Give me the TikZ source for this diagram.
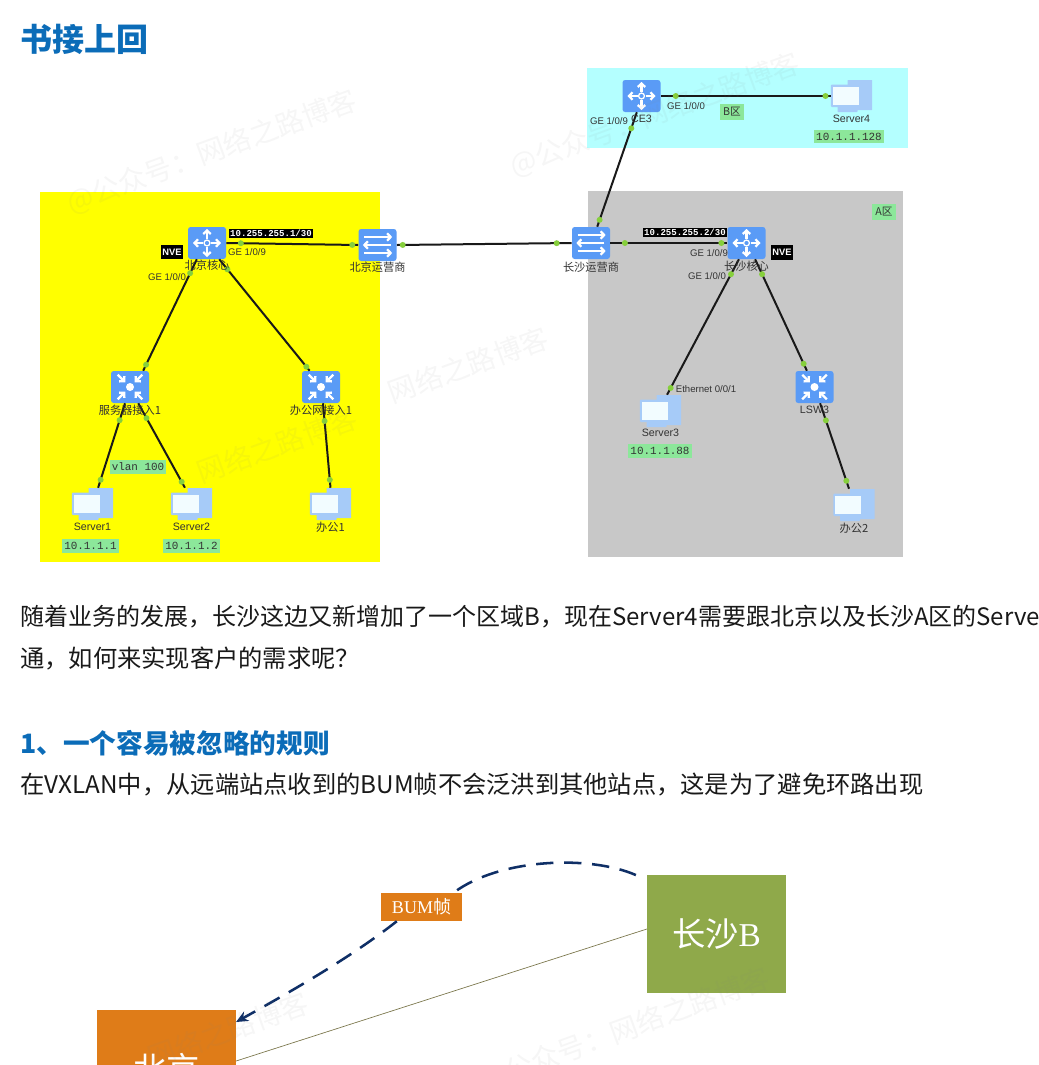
\documentclass[tikz,border=0pt]{standalone}
\usepackage{fontspec}
\setmainfont{Liberation Sans}
\setmonofont{Liberation Mono}
\newfontfamily\cjk{Noto Sans CJK SC}
\newfontfamily\serifl{Liberation Serif}
\usepackage{xcolor}
\usepackage{tikz}
\usetikzlibrary{arrows.meta,positioning,backgrounds}
\definecolor{nwblue}{HTML}{5A9BF6}
\definecolor{nwpale}{HTML}{A6CBF8}
\definecolor{nwscreen}{HTML}{F2FCFF}
\definecolor{nwdot}{HTML}{86CF3C}
\definecolor{nwtag}{HTML}{8CE79A}
\definecolor{headblue}{HTML}{0B6CB8}
\definecolor{bumorange}{HTML}{DF7C18}
\definecolor{csgreen}{HTML}{8FA94A}
\definecolor{bumnavy}{HTML}{0F2F66}
\definecolor{zoneyel}{RGB}{255,255,0}
\definecolor{zonecyan}{HTML}{B4FFFF}
\definecolor{zonegrey}{HTML}{C8C8C8}
\newcommand{\wmk}[3]{\node[wmark,rotate=20] (#1) at (#2) {#3};}

\begin{document}
\begin{tikzpicture}[x=0.75pt,y=-0.75pt,font=\cjk,
  boxbase/.style={rounded corners=2pt,fill=nwblue,minimum width=28.5pt,minimum height=24pt,inner sep=0pt},
  ico/.style={white,line width=1.7pt,-{Straight Barb[length=2.6pt,width=5.6pt]}},
  router/.style={boxbase,path picture={
    \begin{scope}[shift={(path picture bounding box.center)}]
      \foreach \a in {0,90,180,270} \draw[ico] (\a:3pt) -- (\a:10.5pt);
      \draw[white,line width=1pt] (0,0) circle (2.2pt);
    \end{scope}}},
  isp/.style={boxbase,path picture={
    \begin{scope}[shift={(path picture bounding box.center)}]
      \draw[ico] (-10pt,6pt) -- (11pt,6pt);
      \draw[ico] (10pt,0pt) -- (-11pt,0pt);
      \draw[ico] (-10pt,-6pt) -- (11pt,-6pt);
    \end{scope}}},
  lsw/.style={boxbase,path picture={
    \begin{scope}[shift={(path picture bounding box.center)}]
      \foreach \a in {45,135,225,315} \draw[ico] (\a:13pt) -- (\a:5pt);
      \fill[white] (0,0) circle (3pt);
    \end{scope}}},
  pc/.style={minimum width=31pt,minimum height=24pt,inner sep=0pt,path picture={
    \begin{scope}[shift={(path picture bounding box.center)}]
      \fill[nwpale,rounded corners=.5pt] (-4,-16) rectangle (21,14);
      \fill[nwpale,rounded corners=.5pt] (-14,10) rectangle (6,16);
      \fill[nwpale,rounded corners=1pt] (-21,-11.5) rectangle (9,11);
      \fill[nwscreen] (-19,-9.5) rectangle (7,9);
    \end{scope}}},
  lab/.style={inner sep=0pt,font=\cjk\fontsize{8.4}{10}\selectfont,text=black!80},
  port/.style={inner sep=0pt,font=\fontsize{7.2}{9}\selectfont,text=black!80},
  devname/.style={inner sep=0pt,font=\fontsize{8}{10}\selectfont,text=black!80},
  tag/.style={fill=nwtag,inner xsep=1.5pt,inner ysep=2.2pt,font=\ttfamily\fontsize{8.2}{10}\selectfont,text=black!80},
  iptag/.style={fill=black,text=white,inner sep=1.2pt,font=\ttfamily\bfseries\fontsize{6.8}{8}\selectfont},
  nve/.style={fill=black,text=white,minimum width=17pt,minimum height=11pt,inner sep=0pt,font=\bfseries\fontsize{7}{9}\selectfont},
  area/.style={fill=nwtag,minimum width=17.5pt,minimum height=12pt,inner sep=0pt,font=\cjk\fontsize{8}{9}\selectfont,text=black!80},
  dot/.style={circle,fill=nwdot,inner sep=0pt,minimum size=4.5pt},
  link/.style={line width=1.5pt,black!90},
  para/.style={anchor=west,inner sep=0pt,font=\cjk\fontsize{18.2}{22}\selectfont,text=black!90},
  head/.style={anchor=west,inner sep=0pt,text=headblue},
  bumline/.style={bumnavy,line width=1.9pt,dash pattern=on 13pt off 8pt},
  wmark/.style={text=gray,opacity=.07,inner sep=0pt,font=\cjk\fontsize{21}{25}\selectfont}]
  \useasboundingbox (0,0) rectangle (1039,1065);
  \clip (0,0) rectangle (1039,1065);
  \fill[white] (0,0) rectangle (1039,1065);

  % text of the page
  \node[head,font=\cjk\bfseries\fontsize{24}{28}\selectfont] (title) at (20,39) {书接上回};
  \node[para,font=\cjk\fontsize{18}{22}\selectfont] (line1) at (20,617) {随着业务的发展，长沙这边又新增加了一个区域B，现在Server4需要跟北京以及长沙A区的Serve};
  \node[para] (line2) at (20,658) {通，如何来实现客户的需求呢？};
  \node[head,font=\cjk\bfseries\fontsize{20}{24}\selectfont] (rule) at (20,743) {1、一个容易被忽略的规则};
  \node[para] (line3) at (20,785) {在VXLAN中，从远端站点收到的BUM帧不会泛洪到其他站点，这是为了避免环路出现};

  % zones
  \fill[zoneyel] (40,192) rectangle (380,562);
  \fill[zonegrey] (588,191) rectangle (903,557);
  \fill[zonecyan] (587,68) rectangle (908,148);

  % devices
  \node[router] (bjcore) at (207,243) {};
  \node[isp] (bjisp) at (377.5,245) {};
  \node[lsw] (sacc) at (130,387) {};
  \node[lsw] (oacc) at (321,387) {};
  \node[pc] (srv1) at (92.5,504) {};
  \node[pc] (srv2) at (191.5,504) {};
  \node[pc] (off1) at (330.5,504) {};
  \node[isp] (csisp) at (591,243) {};
  \node[router] (cscore) at (746.5,243) {};
  \node[lsw] (lsw3) at (814.5,387) {};
  \node[pc] (srv3) at (660.5,411) {};
  \node[pc] (off2) at (854,505) {};
  \node[router] (ce3) at (641.5,96) {};
  \node[pc] (srv4) at (851.5,96) {};

  % links
  \draw[link] (bjcore.east) -- node[dot,pos=.11]{} node[dot,pos=.955]{} (bjisp.west);
  \draw[link] (bjisp.east) -- node[dot,pos=.034]{} node[dot,pos=.914]{} (csisp.west);
  \draw[link] (csisp.east) -- node[dot,pos=.125]{} node[dot,pos=.95]{} (cscore.west);
  \draw[link] (ce3.-106) -- node[dot,pos=.14]{} node[dot,pos=.94]{} (csisp.69);
  \draw[link] (ce3.east) -- node[dot,pos=.088]{} node[dot,pos=.97]{} (srv4.west);
  \draw[link] (bjcore.-122) -- node[dot,pos=.125]{} node[dot,pos=.946]{} (sacc.51);
  \draw[link] (bjcore.-53) -- node[dot,pos=.09]{} node[dot,pos=.964]{} (oacc.125);
  \draw[link] (sacc.-107) -- node[dot,pos=.2]{} node[dot,pos=.906]{} (srv1.71);
  \draw[link] (sacc.-63) -- node[dot,pos=.176]{} node[dot,pos=.93]{} (srv2.112);
  \draw[link] (oacc.-83) -- node[dot,pos=.21]{} node[dot,pos=.906]{} (off1.north);
  \draw[link] (cscore.-115) -- node[dot,pos=.11]{} node[dot,pos=.95]{} (srv3.68);
  \draw[link] (cscore.-62) -- node[dot,pos=.134]{} node[dot,pos=.9375]{} (lsw3.115);
  \draw[link] (lsw3.-71) -- node[dot,pos=.2]{} node[dot,pos=.907]{} (off2.107);

  % names under the devices
  \node[lab,below=0pt of bjcore] (bjcorelab) {北京核心};
  \node[lab,below=0pt of bjisp] (bjisplab) {北京运营商};
  \node[lab,below=1.5pt of sacc] (sacclab) {服务器接入1};
  \node[lab,below=1.5pt of oacc] (oacclab) {办公网接入1};
  \node[devname,below=2pt of srv1] (srv1lab) {Server1};
  \node[devname,below=2pt of srv2] (srv2lab) {Server2};
  \node[lab,below=1.5pt of off1] (off1lab) {办公1};
  \node[lab,below=2pt of csisp] (csisplab) {长沙运营商};
  \node[lab,below=1pt of cscore] (cscorelab) {长沙核心};
  \node[devname,below=2pt of lsw3] (lsw3lab) {LSW3};
  \node[devname,below=1.5pt of srv3] (srv3lab) {Server3};
  \node[lab,below=1pt of off2] (off2lab) {办公2};
  \node[devname,below=2pt of ce3] (ce3lab) {CE3};
  \node[devname,below=2pt of srv4] (srv4lab) {Server4};

  % ports
  \node[port] (p1) at (247,252) {GE 1/0/9};
  \node[port] (p2) at (167,277) {GE 1/0/0};
  \node[port] (p3) at (609,121) {GE 1/0/9};
  \node[port] (p4) at (686,106) {GE 1/0/0};
  \node[port] (p5) at (709,253) {GE 1/0/9};
  \node[port] (p6) at (707,276) {GE 1/0/0};
  \node[port] (p7) at (706,389) {Ethernet 0/0/1};

  % tags
  \node[iptag] (ip1) at (271,233.5) {10.255.255.1/30};
  \node[iptag] (ip2) at (685,232.5) {10.255.255.2/30};
  \node[nve] (nve1) at (172,252) {NVE};
  \node[nve] (nve2) at (782,252.5) {NVE};
  \node[tag] (vlan) at (138,467) {vlan 100};
  \node[tag] (a1) at (90.5,546) {10.1.1.1};
  \node[tag] (a2) at (191.5,546) {10.1.1.2};
  \node[tag] (a3) at (660,451) {10.1.1.88};
  \node[tag] (a4) at (849,136.5) {10.1.1.128};
  \node[area] (zoneb) at (732,112) {B区};
  \node[area] (zonea) at (884,212) {A区};

  % second drawing
  \node[fill=csgreen,minimum width=104pt,minimum height=88pt,inner sep=0pt,text=white,font=\fontsize{25}{30}\selectfont] (csb) at (716.5,934) {\cjk 长沙\serifl B};
  \node[fill=bumorange,minimum width=104pt,minimum height=88pt,inner sep=0pt,text=white,font=\cjk\fontsize{25}{30}\selectfont] (bj) at (166.5,1069) {北京};
  \node[fill=bumorange,minimum width=61pt,minimum height=21pt,inner sep=0pt,text=white,font=\fontsize{13.5}{16}\selectfont] (bum) at (421.5,907) {\serifl BUM\cjk 帧};
  \draw[black!50!olive!80,line width=.5pt] (csb.west |- 0,929) -- (bj.east |- 0,1061);
  \draw[bumline] (csb.north west) ++(-11,0) .. controls (590,855) and (500,858) .. (bum.24.7);
  \draw[bumline,-{Stealth[length=9pt,width=8pt]}] (bum.210) .. controls (350,958) and (290,992) .. (bj.north east |- 0,1022);

  % watermarks
  \wmk{w1}{212,152}{@公众号：网络之路博客}
  \wmk{w2}{468,365}{网络之路博客}
  \wmk{w3}{277,445}{网络之路博客}
  \wmk{w4}{625,1030}{@公众号：网络之路博客}
  \wmk{w5}{228,1030}{网络之路博客}
  \wmk{w6}{655,115}{@公众号：网络之路博客}
\end{tikzpicture}
\end{document}
